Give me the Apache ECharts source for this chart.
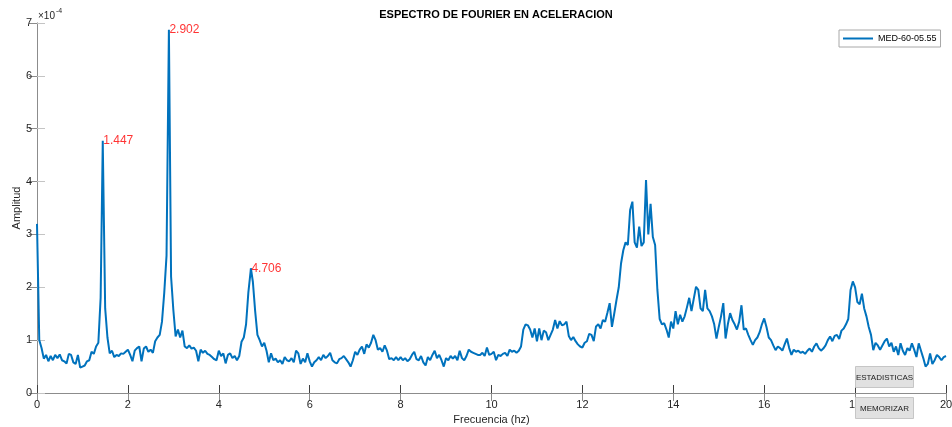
<!DOCTYPE html>
<html>
<head>
<meta charset="utf-8">
<script src="https://cdn.jsdelivr.net/npm/echarts@6/dist/echarts.min.js"></script>
<style>
  html, body { margin: 0; padding: 0; background: #ffffff; }
  #chart { width: 952px; height: 427px; }
</style>
</head>
<body>
<div id="chart"></div>
<script>
// Fourier amplitude spectrum of acceleration, amplitudes in units of 1e-4
const FREQ_STEP = 0.05; // Hz between spectrum samples

// 0.00 – 4.95 Hz
const amp0to5 = [
  3.20, 1.00, 0.85, 0.65, 0.72, 0.60, 0.70, 0.62, 0.72, 0.66,
  0.73, 0.62, 0.60, 0.56, 0.74, 0.72, 0.58, 0.55, 0.72, 0.48,
  0.50, 0.52, 0.60, 0.62, 0.78, 0.74, 0.88, 0.95, 1.80, 4.55,
  1.60, 1.05, 0.75, 0.80, 0.68, 0.72, 0.70, 0.75, 0.74, 0.78,
  0.82, 0.72, 0.60, 0.80, 0.85, 0.88, 0.60, 0.84, 0.88, 0.78,
  0.82, 0.76, 0.98, 1.05, 1.10, 1.35, 1.90, 2.60, 6.70, 2.20,
  1.57, 1.07, 1.20, 1.05, 1.18, 0.88, 0.85, 0.90, 0.84, 0.86,
  0.80, 0.60, 0.82, 0.76, 0.80, 0.74, 0.72, 0.68, 0.64, 0.62,
  0.80, 0.70, 0.75, 0.56, 0.72, 0.75, 0.66, 0.70, 0.62, 0.70,
  0.97, 1.05, 1.30, 1.90, 2.30, 2.10, 1.55, 1.10, 1.00, 0.88
];
// 5.00 – 9.95 Hz
const amp5to10 = [
  0.95, 0.80, 0.58, 0.75, 0.62, 0.65, 0.58, 0.62, 0.55, 0.68,
  0.62, 0.60, 0.66, 0.58, 0.80, 0.75, 0.55, 0.65, 0.58, 0.75,
  0.60, 0.50, 0.58, 0.62, 0.68, 0.62, 0.72, 0.66, 0.70, 0.76,
  0.62, 0.58, 0.56, 0.64, 0.66, 0.70, 0.64, 0.58, 0.50, 0.62,
  0.78, 0.72, 0.82, 0.88, 0.74, 0.92, 0.86, 0.95, 1.10, 1.00,
  0.82, 0.85, 0.78, 0.90, 0.80, 0.64, 0.66, 0.62, 0.68, 0.62,
  0.68, 0.62, 0.66, 0.60, 0.64, 0.72, 0.78, 0.64, 0.62, 0.70,
  0.58, 0.52, 0.68, 0.62, 0.72, 0.80, 0.66, 0.72, 0.62, 0.50,
  0.66, 0.62, 0.70, 0.65, 0.70, 0.62, 0.80, 0.66, 0.62, 0.70,
  0.82, 0.78, 0.76, 0.74, 0.72, 0.72, 0.76, 0.70, 0.86, 0.72
];
// 10.00 – 14.95 Hz
const amp10to15 = [
  0.74, 0.78, 0.62, 0.72, 0.70, 0.74, 0.76, 0.70, 0.82, 0.78,
  0.80, 0.76, 0.80, 0.88, 1.20, 1.30, 1.28, 1.20, 1.05, 1.22,
  0.98, 1.22, 1.00, 1.18, 1.15, 1.00, 1.10, 1.20, 1.38, 1.22,
  1.36, 1.28, 1.30, 1.35, 1.08, 1.00, 1.06, 0.98, 0.92, 0.88,
  0.86, 0.95, 0.98, 1.12, 1.10, 0.98, 1.26, 1.30, 1.22, 1.38,
  1.35, 1.52, 1.70, 1.25, 1.50, 1.76, 2.00, 2.45, 2.70, 2.85,
  2.80, 3.46, 3.62, 2.85, 2.75, 3.15, 2.78, 2.85, 4.03, 3.00,
  3.58, 2.95, 2.80, 1.95, 1.40, 1.30, 1.32, 1.20, 1.05, 1.35,
  1.22, 1.55, 1.30, 1.48, 1.35, 1.45, 1.62, 1.80, 1.55, 1.78,
  2.01, 1.95, 1.60, 1.55, 1.95, 1.60, 1.55, 1.45, 1.30, 1.03
];
// 15.00 – 20.00 Hz
const amp15to20 = [
  1.25, 1.45, 1.70, 1.03, 1.30, 1.51, 1.38, 1.30, 1.20, 1.35,
  1.66, 1.20, 1.22, 1.10, 1.00, 0.91, 1.00, 1.05, 1.15, 1.30,
  1.41, 1.25, 1.05, 1.00, 0.90, 0.81, 0.88, 0.85, 0.80, 0.92,
  1.03, 0.85, 0.72, 0.82, 0.78, 0.80, 0.76, 0.78, 0.74, 0.80,
  0.84, 0.78, 0.88, 0.94, 0.85, 0.80, 0.84, 0.90, 1.00, 1.07,
  0.98, 1.08, 1.10, 1.02, 1.18, 1.22, 1.30, 1.40, 1.95, 2.11,
  2.00, 1.72, 1.68, 1.88, 1.60, 1.45, 1.25, 1.10, 0.81, 0.95,
  0.90, 0.82, 0.90, 0.98, 1.03, 0.88, 0.95, 0.78, 0.88, 0.72,
  0.94, 0.80, 0.72, 0.85, 0.80, 0.94, 0.82, 0.68, 0.94, 0.80,
  0.66, 0.50, 0.55, 0.75, 0.55, 0.62, 0.72, 0.68, 0.62, 0.68,
  0.70
];

// Marked resonance peaks
const peakFreq = [1.447, 2.902, 4.706];
const peakAmp  = [4.77, 6.87, 2.36];

const seriesName = 'MED-60-05.55';
const FONT = '"Liberation Sans", Arial, Helvetica, sans-serif';
const LINE_BLUE = '#0072BD';

const spectrumAmp = amp0to5.concat(amp5to10, amp10to15, amp15to20);
const peakPoints = peakFreq.map((f, i) => [f, peakAmp[i]]);
const spectrumPoints = spectrumAmp
  .map((a, i) => [Math.round(i * FREQ_STEP * 1000) / 1000, a])
  .concat(peakPoints)
  .sort((p, q) => p[0] - q[0]);

const chart = echarts.init(document.getElementById('chart'), null, { renderer: 'canvas' });

const axisText = { color: '#262626', fontSize: 11, fontFamily: FONT };

// a flat grey push button drawn over the plot corner
function pushButton(top, caption) {
  return {
    type: 'group', left: 855, top: top, z: 100, zlevel: 1,
    children: [
      { type: 'rect', z: 100, zlevel: 1, shape: { x: 0, y: 0, width: 58, height: 21 },
        style: { fill: '#e1e1e1', stroke: '#c6c6c6', lineWidth: 1 } },
      { type: 'text', z: 101, zlevel: 1, x: 29, y: 11,
        style: { text: caption, fontSize: 8, fill: '#1a1a1a', fontFamily: FONT,
                 align: 'center', verticalAlign: 'middle' } }
    ]
  };
}

chart.setOption({
  animation: false,
  backgroundColor: '#ffffff',
  title: {
    text: 'ESPECTRO DE FOURIER EN ACELERACION',
    left: 491,
    top: 4,
    textAlign: 'center',
    textStyle: { fontSize: 11, fontWeight: 'bold', color: '#000000', fontFamily: FONT }
  },
  legend: {
    data: [{ name: seriesName, icon: 'rect' }],
    left: 839,
    top: 30,
    padding: [4, 4, 4, 4],
    itemWidth: 30,
    itemHeight: 2,
    backgroundColor: '#ffffff',
    borderColor: '#a8a8a8',
    borderWidth: 1,
    borderRadius: 0,
    textStyle: { fontSize: 9, color: '#000000', fontFamily: FONT }
  },
  grid: { left: 37, right: 6, top: 23, bottom: 34, containLabel: false, outerBoundsMode: 'none' },
  xAxis: [
    {
      type: 'value', min: 0, max: 20, interval: 2,
      name: 'Frecuencia (hz)', nameLocation: 'middle', nameGap: 21, nameMoveOverlap: false,
      nameTextStyle: { fontSize: 11, color: '#262626', fontFamily: FONT },
      axisLine: { lineStyle: { color: '#262626', width: 1 } },
      axisTick: { inside: true, length: 8, lineStyle: { color: '#404040' } },
      axisLabel: Object.assign({ margin: 6 }, axisText),
      splitLine: { show: false }
    },
    {
      type: 'value', min: 0, max: 20, interval: 2, position: 'top',
      axisLine: { lineStyle: { color: '#8c8c8c', width: 1 } },
      axisTick: { inside: true, length: 8, lineStyle: { color: '#8c8c8c' } },
      axisLabel: { show: false },
      splitLine: { show: false }
    }
  ],
  yAxis: [
    {
      type: 'value', min: 0, max: 7, interval: 1,
      name: 'Amplitud', nameLocation: 'middle', nameGap: 15, nameRotate: 90, nameMoveOverlap: false,
      nameTextStyle: { fontSize: 11, color: '#262626', fontFamily: FONT },
      axisLine: { show: true, lineStyle: { color: '#c4c4c4', width: 1 } },
      axisTick: { show: true, inside: true, length: 8, lineStyle: { color: '#c4c4c4' } },
      axisLabel: Object.assign({ margin: 5 }, axisText),
      splitLine: { show: false }
    },
    {
      type: 'value', min: 0, max: 7, interval: 1, position: 'right',
      axisLine: { show: true, lineStyle: { color: '#8c8c8c', width: 1 } },
      axisTick: { show: true, inside: true, length: 8, lineStyle: { color: '#8c8c8c' } },
      axisLabel: { show: false },
      splitLine: { show: false }
    }
  ],
  series: [
    {
      name: seriesName,
      type: 'line',
      xAxisIndex: 0,
      yAxisIndex: 0,
      data: spectrumPoints,
      symbol: 'none',
      lineStyle: { color: LINE_BLUE, width: 2 },
      itemStyle: { color: LINE_BLUE },
      z: 3
    },
    {
      name: 'peaks',
      type: 'scatter',
      data: peakPoints,
      symbolSize: 1,
      itemStyle: { color: 'rgba(0,0,0,0)' },
      silent: true,
      z: 4,
      label: {
        show: true,
        position: 'right',
        distance: 0,
        formatter: p => p.value[0].toFixed(3),
        color: '#ff0000',
        fontSize: 12,
        fontFamily: FONT
      }
    }
  ],
  graphic: [
    // axis exponent
    {
      type: 'text', left: 38, top: 11, z: 10,
      style: { text: '\u00d710', fontSize: 10, fill: '#262626', fontFamily: FONT }
    },
    {
      type: 'text', left: 56, top: 8, z: 10,
      style: { text: '-4', fontSize: 7, fill: '#262626', fontFamily: FONT }
    },
    pushButton(366, 'ESTADISTICAS'),
    pushButton(397, 'MEMORIZAR')
  ]
});
</script>
</body>
</html>
